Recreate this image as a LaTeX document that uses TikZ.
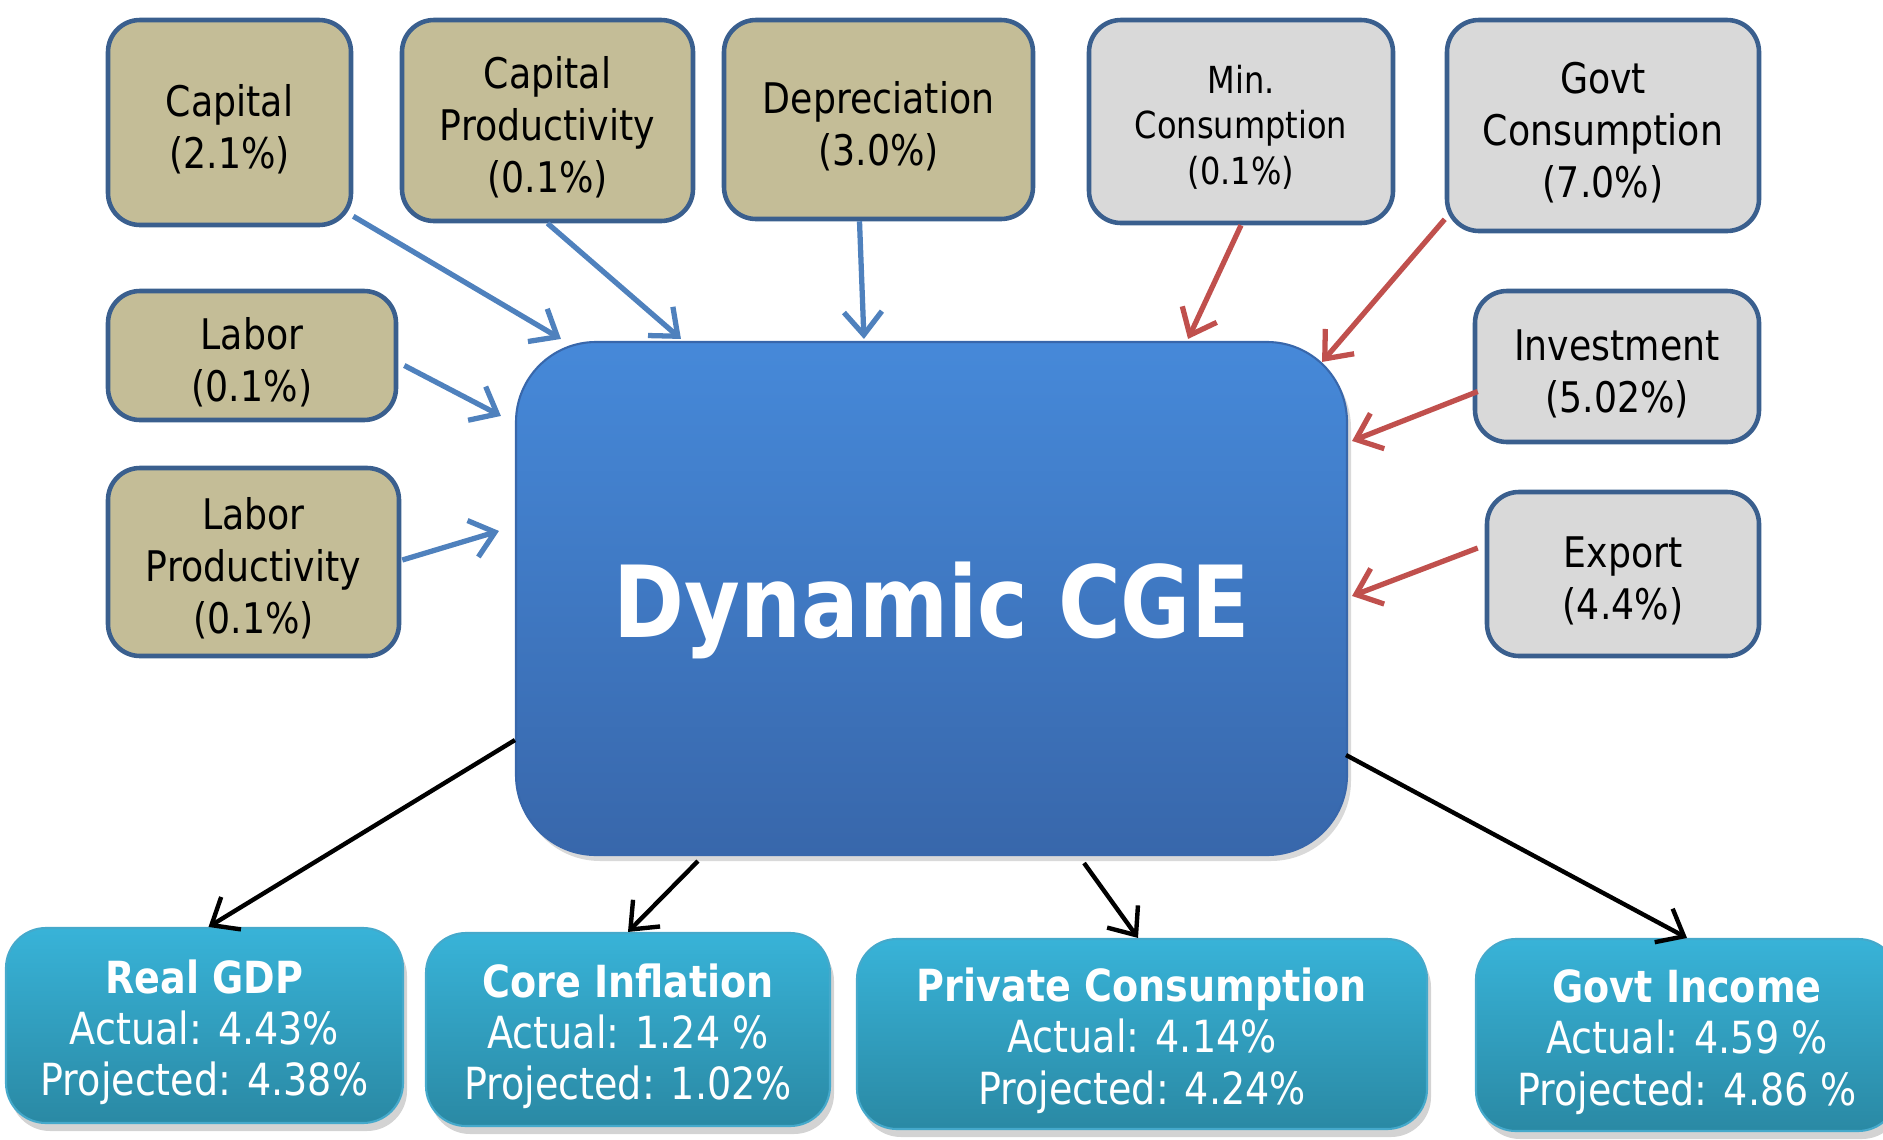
\documentclass[tikz,border=0pt]{standalone}
\usepackage{fontspec}
\setmainfont{DejaVu Sans}[FakeStretch=0.86]
\usetikzlibrary{arrows.meta,shadows,calc}

\definecolor{tanfill}{HTML}{C4BD97}
\definecolor{grayfill}{HTML}{D9D9D9}
\definecolor{boxline}{HTML}{3A5F8E}
\definecolor{inblue}{HTML}{4F81BD}
\definecolor{inred}{HTML}{C0504D}
\definecolor{cgetop}{HTML}{4689D9}
\definecolor{cgebot}{HTML}{3867AB}
\definecolor{outtop}{HTML}{38B3D8}
\definecolor{outbot}{HTML}{2A89A4}
\definecolor{outedge}{HTML}{45A9CB}

% extra head room on the first line, so the text block sits a little lower
\newcommand\toppad{\rule{0pt}{1.06em}}

\begin{document}
\begin{tikzpicture}[x=0.1mm,y=-0.1mm,
  inbox/.style={draw=boxline, line width=1.3pt, rounded corners=3.2mm,
    align=center, inner sep=0pt, font=\fontsize{12}{14.8}\selectfont},
  tanbox/.style={inbox, fill=tanfill},
  graybox/.style={inbox, fill=grayfill},
  cgebox/.style={rounded corners=8mm, top color=cgetop, bottom color=cgebot,
    draw=cgebot, line width=0.6pt, text=white, inner sep=0pt,
    font=\fontsize{28.3}{34}\selectfont\bfseries,
    drop shadow={opacity=0.3, shadow xshift=0.4mm, shadow yshift=-0.6mm}},
  outbox/.style={rounded corners=4mm, top color=outtop, bottom color=outbot,
    draw=outedge, line width=0.6pt, text=white, align=center, inner sep=0pt,
    font=\fontsize{12.6}{14.6}\selectfont,
    drop shadow={opacity=0.35, shadow xshift=0.4mm, shadow yshift=-0.8mm}},
  tip/.style={-{Straight Barb[length=2.3mm,width=3.8mm]}},
  feedblue/.style={tip, draw=inblue, line width=1.5pt},
  feedred/.style={tip, draw=inred, line width=1.5pt},
  result/.style={tip, draw=black, line width=1.25pt},
]
\useasboundingbox (0,0) rectangle (1883,1139);
\clip (0,0) rectangle (1883,1139);

% model core
\node[cgebox, minimum width=83.1mm, minimum height=51.3mm] (cge) at (931.5,598.5) {\raisebox{-1.2mm}[\height][\depth]{Dynamic CGE}};

% supply-side inputs
\node[tanbox, minimum width=24.3mm, minimum height=20.5mm] (cap) at (229.5,122.5) {\toppad Capital\\(2.1\%)};
\node[tanbox, minimum width=29.1mm, minimum height=20.1mm] (capprod) at (547.5,120.5) {\toppad Capital\\Productivity\\(0.1\%)};
\node[tanbox, minimum width=30.9mm, minimum height=19.9mm] (dep) at (878.5,119.5) {\toppad Depreciation\\(3.0\%)};
\node[tanbox, minimum width=28.8mm, minimum height=12.9mm] (labor) at (252,355.5) {\toppad Labor\\(0.1\%)};
\node[tanbox, minimum width=29.1mm, minimum height=18.8mm] (lprod) at (253.5,562) {\toppad Labor\\Productivity\\(0.1\%)};

% demand-side inputs
\node[graybox, minimum width=30.4mm, minimum height=20.3mm, font=\fontsize{10.6}{12.9}\selectfont] (mincons) at (1241,121.5) {\toppad Min.\\Consumption\\(0.1\%)};
\node[graybox, minimum width=31.2mm, minimum height=21.1mm] (govcons) at (1603,125.5) {\toppad Govt\\Consumption\\(7.0\%)};
\node[graybox, minimum width=28.4mm, minimum height=15.1mm] (invest) at (1617,366.5) {\toppad Investment\\(5.02\%)};
\node[graybox, minimum width=27.2mm, minimum height=16.4mm] (export) at (1623,574) {\toppad Export\\(4.4\%)};

% model outputs
\node[outbox, minimum width=39.7mm, minimum height=19.5mm] (gdp) at (204.5,1025.5) {\toppad\textbf{Real GDP}\\Actual: 4.43\%\\Projected: 4.38\%};
\node[outbox, minimum width=40.4mm, minimum height=19.3mm] (infl) at (628,1029.5) {\toppad\textbf{Core Inflation}\\Actual: 1.24 \%\\Projected: 1.02\%};
\node[outbox, minimum width=57.0mm, minimum height=19.0mm] (pcons) at (1142,1034) {\toppad\textbf{Private Consumption}\\Actual: 4.14\%\\Projected: 4.24\%};
\node[outbox, minimum width=42.2mm, minimum height=19.2mm] (gincome) at (1687,1035) {\toppad\textbf{Govt Income}\\Actual: 4.59 \%\\Projected: 4.86 \%};

% supply-side arrows
\draw[feedblue] ($(cap.south east)+(0,-11)$) -- ($(cge.north west)+(46,-2)$);
\draw[feedblue] (capprod.south) -- ($(cge.north west)+(166,-2)$);
\draw[feedblue] ($(dep.south)+(-19,0)$) -- ($(cge.north west)+(349,-2)$);
\draw[feedblue] ($(labor.east)+(6,10)$) -- ($(cge.north west)+(-14,75)$);
\draw[feedblue] ($(lprod.east)+(1,-2)$) -- ($(cge.north west)+(-16,190)$);

% demand-side arrows
\draw[feedred] (mincons.south) -- ($(cge.north east)+(-160,-2)$);
\draw[feedred] ($(govcons.south west)+(0,-14)$) -- ($(cge.north east)+(-26,21)$);
\draw[feedred] ($(invest.west)+(5,25)$) -- ($(cge.north east)+(4,100)$);
\draw[feedred] ($(export.west)+(-7,-26)$) -- ($(cge.north east)+(4,255)$);

% output arrows
\draw[result] ($(cge.south west)+(0,-116)$) -- ($(gdp.north)+(4,0)$);
\draw[result] ($(cge.south west)+(183,5)$) -- (infl.north);
\draw[result] ($(cge.south east)+(-264,7)$) -- ($(pcons.north)+(-4,0)$);
\draw[result] ($(cge.south east)+(-2,-101)$) -- (gincome.north);
\end{tikzpicture}
\end{document}
